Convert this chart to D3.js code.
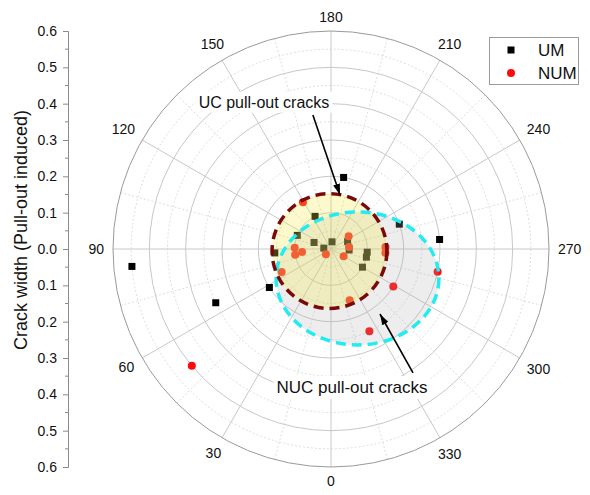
<!DOCTYPE html>
<html>
<head>
<meta charset="utf-8">
<script src="https://cdn.jsdelivr.net/npm/d3@7"></script>
<style>
  body { margin: 0; background: #fff; }
  svg { display: block; }
  text { font-family: "Liberation Sans", Arial, sans-serif; fill: #111; }
</style>
</head>
<body>
<svg id="chart" width="590" height="495"></svg>
<script>
// UM specimens: angular position of the crack (deg) and pull-out induced crack width (mm)
const umAngle = [85, 65, 58, 190, 250, 265, 154, 112, 111, 188, 97, 246, 273, 275, 283, 300, 86];
const umWidth = [0.55, 0.35, 0.20, 0.20, 0.20, 0.30, 0.10, 0.10, 0.05, 0.02, 0.02, 0.05, 0.05, 0.10, 0.10, 0.10, 0.155];

// NUM specimens
const numAngle = [50, 149, 92, 84, 81, 65, 45, 300, 234, 264, 268, 274, 340, 301, 335, 282];
const numWidth = [0.50, 0.15, 0.10, 0.08, 0.10, 0.15, 0.02, 0.04, 0.06, 0.05, 0.15, 0.15, 0.15, 0.20, 0.25, 0.30];

// angular and radial ticks
const angleTicks = [0, 30, 60, 90, 120, 150, 180, 210, 240, 270, 300, 330];
const angleLabels = ["0", "30", "60", "90", "120", "150", "180", "210", "240", "270", "300", "330"];
const widthTicks = [-0.6, -0.5, -0.4, -0.3, -0.2, -0.1, 0, 0.1, 0.2, 0.3, 0.4, 0.5, 0.6];
const widthTickLabels = ["0.6", "0.5", "0.4", "0.3", "0.2", "0.1", "0.0", "0.1", "0.2", "0.3", "0.4", "0.5", "0.6"];

// crack zones: centre (angle, width) and semi-axes in width units
const zoneNames = ["NUC", "UC"];
const zoneCenterAngle = [318, 37];
const zoneCenterWidth = [0.109, 0.007];
const zoneRx = [0.224, 0.158];
const zoneRy = [0.183, 0.158];

// annotation arrows (tail / head in polar coordinates)
const arrowTailAngle = [172.3, 326.5];
const arrowTailWidth = [0.372, 0.409];
const arrowHeadAngle = [189.5, 323];
const arrowHeadWidth = [0.151, 0.224];
const arrowTexts = ["UC pull-out cracks", "NUC pull-out cracks"];

const svg = d3.select("#chart");
const cx = 331, cy = 249, R = 218;
const rMax = 0.6;

const r = d3.scaleLinear().domain([0, rMax]).range([0, R]);
const ang = d3.scaleLinear().domain([0, 360]).range([0, 2 * Math.PI]);

// 0 at the bottom, increasing clockwise through 90 (left), 180 (top), 270 (right)
function pt(a, w) {
  const t = ang(a), rr = r(w);
  return [cx - rr * Math.sin(t), cy + rr * Math.cos(t)];
}

// ---- polar grid ----
const grid = svg.append("g");
const minorRings = d3.range(1, 12, 2).map(d => d * 0.05);
const majorRings = d3.range(1, 6).map(d => d * 0.1);
grid.selectAll("circle.minor").data(minorRings).join("circle")
  .attr("cx", cx).attr("cy", cy).attr("r", d => r(d))
  .attr("fill", "none").attr("stroke", "#d4d4d4").attr("stroke-width", 0.8)
  .attr("stroke-dasharray", "2,2");
grid.selectAll("circle.major").data(majorRings).join("circle")
  .attr("cx", cx).attr("cy", cy).attr("r", d => r(d))
  .attr("fill", "none").attr("stroke", "#c8c8c8").attr("stroke-width", 1);

const minorSpokes = d3.range(15, 360, 30);
grid.selectAll("line.minor").data(minorSpokes).join("line")
  .attr("x1", cx).attr("y1", cy)
  .attr("x2", d => pt(d, rMax)[0]).attr("y2", d => pt(d, rMax)[1])
  .attr("stroke", "#d4d4d4").attr("stroke-width", 0.8).attr("stroke-dasharray", "2,2");
grid.selectAll("line.major").data(angleTicks).join("line")
  .attr("x1", cx).attr("y1", cy)
  .attr("x2", d => pt(d, rMax)[0]).attr("y2", d => pt(d, rMax)[1])
  .attr("stroke", "#c8c8c8").attr("stroke-width", 1);

grid.append("circle").attr("cx", cx).attr("cy", cy).attr("r", r(rMax))
  .attr("fill", "none").attr("stroke", "#9a9a9a").attr("stroke-width", 1);

// angular tick labels, pushed just outside the outer ring
const angG = svg.append("g").attr("font-size", 14);
angleTicks.forEach((a, i) => {
  const t = angG.append("text").text(angleLabels[i])
    .attr("text-anchor", "middle").attr("dy", "0.35em");
  const w = t.node().getComputedTextLength();
  const s = Math.abs(Math.sin(ang(a))), c = Math.abs(Math.cos(ang(a)));
  const d = R + 9 + s * w / 2 + c * 5;
  const tt = ang(a);
  t.attr("x", cx - d * Math.sin(tt)).attr("y", cy + d * Math.cos(tt));
});

// ---- data points ----
const pts = svg.append("g");
const sq = 7;
pts.selectAll("rect").data(umAngle.map((a, i) => pt(a, umWidth[i]))).join("rect")
  .attr("x", d => d[0] - sq / 2).attr("y", d => d[1] - sq / 2)
  .attr("width", sq).attr("height", sq).attr("fill", "#000");
pts.selectAll("circle").data(numAngle.map((a, i) => pt(a, numWidth[i]))).join("circle")
  .attr("cx", d => d[0]).attr("cy", d => d[1]).attr("r", 4).attr("fill", "#ff0a0a");

// ---- crack zones ----
const zoneFill = ["rgba(175,175,175,0.22)", "rgba(245,238,70,0.27)"];
const zoneStroke = ["#22ecf2", "#7a0a0a"];
const zones = svg.append("g");
zoneNames.forEach((n, i) => {
  const c = pt(zoneCenterAngle[i], zoneCenterWidth[i]);
  zones.append("ellipse").attr("cx", c[0]).attr("cy", c[1])
    .attr("rx", r(zoneRx[i])).attr("ry", r(zoneRy[i]))
    .attr("fill", zoneFill[i]);
});
zoneNames.forEach((n, i) => {
  const c = pt(zoneCenterAngle[i], zoneCenterWidth[i]);
  zones.append("ellipse").attr("cx", c[0]).attr("cy", c[1])
    .attr("rx", r(zoneRx[i])).attr("ry", r(zoneRy[i]))
    .attr("fill", "none").attr("stroke", zoneStroke[i])
    .attr("stroke-width", 3.5).attr("stroke-dasharray", "10,6");
});

// ---- annotations ----
svg.append("defs").append("marker")
  .attr("id", "head").attr("markerUnits", "userSpaceOnUse")
  .attr("markerWidth", 12).attr("markerHeight", 10)
  .attr("viewBox", "0 -5 12 10").attr("refX", 11).attr("refY", 0)
  .attr("orient", "auto")
  .append("path").attr("d", "M0,-3.5L11,0L0,3.5Z").attr("fill", "#000");

const ann = svg.append("g");
arrowTexts.forEach((txt, i) => {
  const a = pt(arrowTailAngle[i], arrowTailWidth[i]);
  const b = pt(arrowHeadAngle[i], arrowHeadWidth[i]);
  ann.append("line").attr("x1", a[0]).attr("y1", a[1]).attr("x2", b[0]).attr("y2", b[1])
    .attr("stroke", "#000").attr("stroke-width", 1.6).attr("marker-end", "url(#head)");
});
const labelPos = [[264, 102], [352, 387]];
const labelSize = [16, 17];
arrowTexts.forEach((txt, i) => {
  const g = ann.append("g");
  const t = g.append("text").text(txt).attr("font-size", labelSize[i])
    .attr("x", labelPos[i][0]).attr("y", labelPos[i][1])
    .attr("text-anchor", "middle").attr("dy", "0.35em");
  const bb = t.node().getBBox();
  g.insert("rect", "text").attr("x", bb.x - 3).attr("y", bb.y - 2)
    .attr("width", bb.width + 6).attr("height", bb.height + 4).attr("fill", "#fff");
});

// ---- left width axis ----
const y = d3.scaleLinear().domain([-rMax, rMax]).range([cy + R, cy - R]);
const axisX = 68;
const axis = d3.axisLeft(y).tickValues(widthTicks)
  .tickFormat((d, i) => widthTickLabels[i]).tickSize(5).tickPadding(6);
const ag = svg.append("g").attr("transform", `translate(${axisX},0)`).call(axis);
ag.select(".domain").attr("stroke", "#8a8a8a");
ag.selectAll(".tick line").attr("stroke", "#8a8a8a");
ag.selectAll(".tick text").attr("font-size", 14).attr("font-family", "Liberation Sans, Arial, sans-serif").attr("fill", "#111");
ag.selectAll("line.mt").data(d3.range(-11, 12, 2).map(d => d * 0.05)).join("line")
  .attr("x1", 0).attr("x2", -3).attr("y1", d => y(d)).attr("y2", d => y(d))
  .attr("stroke", "#8a8a8a");

svg.append("text").text("Crack width (Pull-out induced)")
  .attr("transform", "translate(21,230) rotate(-90)")
  .attr("text-anchor", "middle").attr("dy", "0.35em").attr("font-size", 18);

// ---- legend ----
const lg = svg.append("g");
lg.append("rect").attr("x", 489.5).attr("y", 37.5).attr("width", 89).attr("height", 47)
  .attr("fill", "#fff").attr("stroke", "#9a9a9a");
lg.append("rect").attr("x", 511 - sq / 2).attr("y", 50 - sq / 2).attr("width", sq).attr("height", sq).attr("fill", "#000");
lg.append("circle").attr("cx", 511).attr("cy", 73).attr("r", 4).attr("fill", "#ff0a0a");
lg.append("text").text("UM").attr("x", 538).attr("y", 50).attr("dy", "0.35em").attr("font-size", 17);
lg.append("text").text("NUM").attr("x", 538).attr("y", 73).attr("dy", "0.35em").attr("font-size", 17);
</script>
</body>
</html>
